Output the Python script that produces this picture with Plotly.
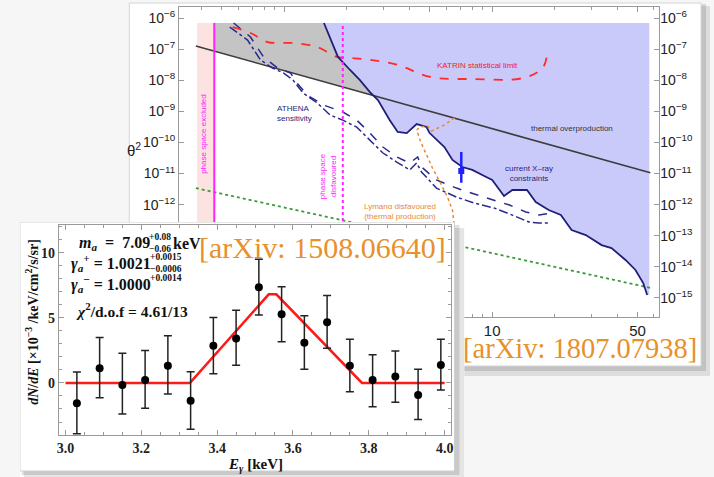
import numpy as np
import plotly.graph_objects as go

W, H = 714, 477

# ---------------- main plot data (sterile neutrino mass [keV], theta^2) ----------------
thermal_mass = [0.375, 57.7]
thermal_theta2 = [1.26e-7, 1.05e-11]

resonant_mass = [0.375, 57.7]
resonant_theta2 = [3.4e-12, 2.1e-15]

katrin_mass = [0.564, 0.687, 0.830, 1.10, 1.44, 1.79, 2.07, 2.58, 3.51, 5.05, 8.11, 14.1, 17.5, 18.5]
katrin_theta2 = [5.1e-7, 3.3e-7, 1.69e-7, 1.57e-7, 1.17e-7, 5.6e-8, 5.2e-8, 4.5e-8, 3.1e-8,
                 1.27e-8, 1.09e-8, 1.18e-8, 2.5e-8, 9.3e-8]

xray_mass = [1.55, 1.68, 1.81, 2.07, 2.31, 2.58, 2.82, 3.21, 3.51, 3.88, 4.33, 4.83, 5.0, 5.89, 6.44,
             7.18, 8.02, 9.36, 10.0, 11.4, 12.5, 14.7, 16.2, 18.7, 21.4, 24.1, 28.2, 33.6, 37.5,
             43.8, 48.9, 53.3, 55.7]
xray_theta2 = [6.9e-7, 1.96e-7, 5.6e-8, 2.13e-8, 1.01e-8, 4.17e-9, 2.31e-9, 5.25e-10, 2.16e-10,
               2.0e-10, 3.9e-10, 3.13e-10, 2.0e-10, 7.1e-11, 2.72e-11, 1.62e-11, 1.30e-11, 7.7e-12,
               6.2e-12, 1.89e-12, 2.95e-12, 2.95e-12, 1.21e-12, 6.7e-13, 4.63e-13, 1.52e-13,
               1.05e-13, 5.0e-14, 4.0e-14, 1.66e-14, 7.9e-15, 3.0e-15, 1.24e-15]
xray_fill_right = 57.0
fill_top = 6.9e-7

athena1_mass = [0.570, 0.687, 0.794, 0.926, 1.07, 1.15, 1.29, 1.54, 1.91, 2.23, 2.58, 2.98, 3.47,
                4.01, 4.38, 4.57, 5.39, 6.73, 8.20, 10.2, 12.1, 14.5, 16.8, 19.4]
athena1_theta2 = [6.9e-7, 2.45e-7, 5.6e-8, 2.47e-8, 1.71e-8, 8.1e-9, 3.3e-9, 1.6e-9, 9.5e-10,
                  5.2e-10, 2.0e-10, 7.1e-11, 3.4e-11, 2.18e-11, 3.4e-11, 1.62e-11, 6.2e-12,
                  3.4e-12, 2.19e-12, 1.41e-12, 9.7e-13, 5.8e-13, 4.6e-13, 5.4e-13]
athena2_mass = [0.546, 0.665, 0.767, 0.877, 0.989, 1.10, 1.23, 1.44, 1.66, 1.91, 2.23, 2.58, 2.98,
                3.47, 4.01, 4.33, 4.57, 5.39, 6.73, 8.20, 10.2, 12.5, 15.0, 16.8, 18.7]
athena2_theta2 = [5.1e-7, 1.96e-7, 4.5e-8, 2.47e-8, 1.71e-8, 1.01e-8, 3.9e-9, 1.85e-9, 7.6e-10,
                  5.2e-10, 3.1e-10, 1.19e-10, 4.56e-11, 2.34e-11, 1.30e-11, 2.18e-11, 1.12e-11,
                  3.4e-12, 1.75e-12, 1.12e-12, 7.8e-13, 4.6e-13, 2.76e-13, 2.56e-13, 2.56e-13]

lyman_mass = [6.58, 5.89, 5.11, 4.89, 4.48, 4.33, 4.53, 4.83, 5.16, 5.64, 6.09, 6.44, 6.58, 6.80]
lyman_theta2 = [6.1e-10, 3.63e-10, 2.33e-10, 3.37e-10, 3.13e-10, 2.5e-10, 1.03e-10, 3.94e-11,
                1.50e-11, 4.95e-12, 1.75e-12, 6.7e-13, 1.77e-13, 5.0e-14]

line_mass = [7.1]
line_theta2 = [1.2e-11]
line_err_plus = [3.7e-11]
line_err_minus = [0.7e-11]

phase_excl_lo, phase_excl_hi = 0.38, 0.46
phase_disf = 1.91
theta2_floor = 1e-16

x_tick_vals = [1, 5, 10, 50]
x_minor_ticks = [0.4, 0.5, 0.6, 0.7, 0.8, 0.9, 2, 3, 4, 6, 7, 8, 9, 20, 30, 40, 60]
y_exponents = list(range(6, 16))

# ---------------- inset data (E [keV], dN/dE [1e-3 /keV/cm2/s/sr]) ----------------
E_gamma = [3.03, 3.09, 3.15, 3.21, 3.27, 3.33, 3.39, 3.45, 3.51, 3.57, 3.63, 3.69, 3.75, 3.81,
           3.87, 3.93, 3.99]
flux = [-1.55, 1.13, -0.15, 0.23, 1.33, -1.36, 2.87, 3.43, 7.36, 5.28, 3.10, 4.67, 1.33, 0.23,
        0.49, -0.92, 1.38]
flux_err_up = [2.40, 2.36, 2.43, 2.26, 2.31, 2.23, 2.16, 2.17, 2.15, 2.13, 2.08, 2.05, 2.03, 1.95,
               1.97, 1.97, 1.98]
flux_err_dn = [2.35, 2.26, 2.23, 2.18, 2.18, 2.20, 2.15, 2.07, 2.13, 2.10, 2.05, 2.00, 2.00, 2.05,
               1.98, 1.88, 1.92]
model_E = [3.0, 3.328, 3.536, 3.556, 3.782, 4.0]
model_flux = [0, 0, 6.82, 6.82, 0, 0]

# ---------------- derived fill polygons ----------------
lm_t = np.log10(thermal_mass)
lt_t = np.log10(thermal_theta2)


def log_thermal(logm):
    return lt_t[0] + (lt_t[1] - lt_t[0]) * (logm - lm_t[0]) / (lm_t[1] - lm_t[0])


lm = np.log10(xray_mass)
lt = np.log10(xray_theta2)
diff = lt - log_thermal(lm)
i_cross = int(np.argmax(diff < 0))
f = diff[i_cross - 1] / (diff[i_cross - 1] - diff[i_cross])
cross_lm = lm[i_cross - 1] + f * (lm[i_cross] - lm[i_cross - 1])
gray_x = [phase_excl_hi, xray_mass[0]] + xray_mass[1:i_cross] + [10 ** cross_lm, phase_excl_hi]
gray_y = [fill_top, xray_theta2[0]] + xray_theta2[1:i_cross] + \
         [10 ** log_thermal(cross_lm), 10 ** log_thermal(np.log10(phase_excl_hi))]

blue_x = xray_mass + [xray_fill_right, xray_fill_right]
blue_y = xray_theta2 + [xray_theta2[-1], fill_top]

navy = "#1f1f7a"
SANS = "Liberation Sans"
SERIF = "Liberation Serif"

fig = go.Figure()

# card subplot placeholder
fig.add_trace(go.Scatter(x=[], y=[], xaxis="x2", yaxis="y2", showlegend=False, hoverinfo="skip"))

# ---- main plot traces ----
fig.add_trace(go.Scatter(x=[phase_excl_lo, phase_excl_hi, phase_excl_hi, phase_excl_lo],
                         y=[theta2_floor, theta2_floor, fill_top, fill_top],
                         fill="toself", fillcolor="rgb(253,226,226)", line=dict(width=0),
                         mode="lines", showlegend=False, hoverinfo="skip"))
fig.add_trace(go.Scatter(x=gray_x, y=gray_y, fill="toself", fillcolor="rgb(196,196,196)",
                         line=dict(width=0), mode="lines", showlegend=False, hoverinfo="skip"))
fig.add_trace(go.Scatter(x=blue_x, y=blue_y, fill="toself", fillcolor="rgb(202,202,250)",
                         line=dict(width=0), mode="lines", showlegend=False, hoverinfo="skip"))
fig.add_trace(go.Scatter(x=thermal_mass, y=thermal_theta2, mode="lines",
                         line=dict(color="#3c3c3c", width=1.6), showlegend=False))
fig.add_trace(go.Scatter(x=resonant_mass, y=resonant_theta2, mode="lines",
                         line=dict(color="#3a9a3a", width=1.8, dash="dot"), showlegend=False))
fig.add_trace(go.Scatter(x=athena1_mass, y=athena1_theta2, mode="lines",
                         line=dict(color="#2a2a8c", width=1.5, dash="dash"), showlegend=False))
fig.add_trace(go.Scatter(x=athena2_mass, y=athena2_theta2, mode="lines",
                         line=dict(color="#2a2a8c", width=1.5, dash="dashdot"), showlegend=False))
fig.add_trace(go.Scatter(x=katrin_mass, y=katrin_theta2, mode="lines", line_shape="spline",
                         line=dict(color="#ff2a2a", width=1.8, dash="dash"), showlegend=False))
fig.add_trace(go.Scatter(x=xray_mass, y=xray_theta2, mode="lines",
                         line=dict(color=navy, width=1.8), showlegend=False))
fig.add_trace(go.Scatter(x=lyman_mass, y=lyman_theta2, mode="lines",
                         line=dict(color="#e8883a", width=1.5, dash="dot"), showlegend=False))
fig.add_trace(go.Scatter(x=[phase_excl_hi, phase_excl_hi], y=[theta2_floor, fill_top], mode="lines",
                         line=dict(color="#ff22ff", width=2), showlegend=False))
fig.add_trace(go.Scatter(x=[phase_disf, phase_disf], y=[theta2_floor, fill_top], mode="lines",
                         line=dict(color="#ff22ff", width=2, dash="dot"), showlegend=False))
fig.add_trace(go.Scatter(x=line_mass, y=line_theta2, mode="markers",
                         marker=dict(symbol="square", size=6, color="#2020ff"),
                         error_y=dict(type="data", array=line_err_plus, arrayminus=line_err_minus,
                                      color="#2020ff", thickness=2.5, width=0),
                         showlegend=False))
fig.add_trace(go.Scatter(x=[0.99], y=[2.0e-13], mode="text", text=["resonant production"],
                         textfont=dict(family=SANS, size=8, color="#3a9a3a"), showlegend=False))
# right-hand y axis labels
fig.add_trace(go.Scatter(x=[], y=[], yaxis="y4", showlegend=False, hoverinfo="skip"))

# ---- inset traces ----
fig.add_trace(go.Scatter(x=model_E, y=model_flux, mode="lines", xaxis="x3", yaxis="y3",
                         line=dict(color="#ff1a1a", width=2.6), showlegend=False))
fig.add_trace(go.Scatter(x=E_gamma, y=flux, mode="markers", xaxis="x3", yaxis="y3",
                         marker=dict(color="black", size=8),
                         error_y=dict(type="data", array=flux_err_up, arrayminus=flux_err_dn,
                                      color="#222", thickness=1.5, width=4),
                         showlegend=False))

tick_text_y = [f"10<sup>−{k}</sup>" for k in y_exponents]
tick_vals_y = [10.0 ** (-k) for k in y_exponents]
frame = "#9a9a9a"

fig.update_layout(
    width=W, height=H, autosize=False,
    margin=dict(l=0, r=0, t=0, b=0),
    paper_bgcolor="#f6f6f6", plot_bgcolor="white",
    xaxis=dict(type="log", domain=[178 / W, 661 / W], range=[-0.507, 1.804], anchor="y",
               tickvals=x_tick_vals, ticktext=[str(v) for v in x_tick_vals],
               ticks="inside", ticklen=5, tickcolor=frame, showline=True, linecolor=frame,
               mirror="ticks", showgrid=False, zeroline=False,
               minor=dict(tickvals=x_minor_ticks, ticks="inside", ticklen=3, tickcolor=frame,
                          showgrid=False),
               tickfont=dict(family=SANS, size=15, color="#222")),
    yaxis=dict(type="log", domain=[1 - 317 / H, 1 - 7 / H], range=[-15.614, -5.646], anchor="x",
               tickvals=tick_vals_y, ticktext=tick_text_y,
               ticks="inside", ticklen=5, tickcolor=frame, showline=True, linecolor=frame,
               mirror="ticks", showgrid=False, zeroline=False,
               tickfont=dict(family=SANS, size=14, color="#222")),
    yaxis4=dict(type="log", overlaying="y", side="right", anchor="x", range=[-15.614, -5.646],
                tickvals=tick_vals_y, ticktext=tick_text_y, ticks="", showline=False,
                showgrid=False, zeroline=False, tickfont=dict(family=SANS, size=14, color="#222")),
    xaxis2=dict(domain=[18 / W, 465 / W], range=[18, 465], anchor="y2", visible=False),
    yaxis2=dict(domain=[0, 1 - 222 / H], range=[477, 222], anchor="x2", visible=False),
    xaxis3=dict(domain=[57 / W, 452 / W], range=[2.982, 4.018], anchor="y3",
                tick0=3.0, dtick=0.2, tickformat=".1f",
                ticks="inside", ticklen=5, tickcolor=frame, showline=True, linecolor=frame,
                mirror="ticks", showgrid=False, zeroline=False,
                minor=dict(dtick=0.05, ticks="inside", ticklen=3, tickcolor=frame, showgrid=False),
                tickfont=dict(family=SERIF, size=14, color="#222", weight="bold")),
    yaxis3=dict(domain=[1 - 435 / H, 1 - 225 / H], range=[-4.0, 12.15], anchor="x3",
                tick0=0, dtick=5,
                ticks="inside", ticklen=5, tickcolor=frame, showline=True, linecolor=frame,
                mirror="ticks", showgrid=False, zeroline=False,
                minor=dict(dtick=1, ticks="inside", ticklen=3, tickcolor=frame, showgrid=False),
                tickfont=dict(family=SERIF, size=14, color="#222", weight="bold")),
)

shapes = [
    # main card shadow + card
    dict(type="rect", xref="paper", yref="paper", layer="below",
         x0=132 / W, x1=712 / W, y0=1 - 376 / H, y1=1 - 6 / H,
         fillcolor="rgba(0,0,0,0.10)", line=dict(width=0)),
    dict(type="rect", xref="paper", yref="paper", layer="below",
         x0=130 / W, x1=708 / W, y0=1 - 371 / H, y1=1 - 4 / H,
         fillcolor="rgba(0,0,0,0.12)", line=dict(width=0)),
    dict(type="rect", xref="paper", yref="paper", layer="below",
         x0=128 / W, x1=703 / W, y0=1 - 366 / H, y1=1 - 3 / H,
         fillcolor="white", line=dict(color="#d4d4d4", width=1)),
    # inset card shadow + card
    dict(type="rect", xref="x2", yref="y2", layer="below", x0=22, x1=465, y0=228, y1=477,
         fillcolor="rgba(0,0,0,0.10)", line=dict(width=0)),
    dict(type="rect", xref="x2", yref="y2", layer="below", x0=20, x1=460, y0=225, y1=475,
         fillcolor="rgba(0,0,0,0.12)", line=dict(width=0)),
    dict(type="rect", xref="x2", yref="y2", layer="below", x0=18, x1=455, y0=222, y1=471,
         fillcolor="white", line=dict(color="#cfcfcf", width=1)),
]
fig.update_layout(shapes=shapes)


def ann(text, px, py, size, color, family=SANS, xanchor="center", angle=0, align="center",
        pad=1, **kw):
    return dict(text=text, x=px / W, y=1 - py / H, xref="paper", yref="paper", showarrow=False,
                xanchor=xanchor, yanchor="middle", textangle=angle, align=align, borderpad=pad,
                font=dict(family=family, size=size, color=color, **kw))


NB = "\u00a0"
ink = "#111"
annotations = [
    ann("KATRIN statistical limit", 478, 65, 8, "#ee2222"),
    ann("ATHENA<br>sensitivity", 275, 114, 8, navy, xanchor="left", align="left"),
    ann("thermal overproduction", 573, 128, 8, "#333333"),
    ann("current X–ray<br>constraints", 530, 173, 8, navy),
    ann("Lymanα disfavoured<br>(thermal production)", 400, 211, 8, "#e8883a"),
    ann("phase space excluded", 202, 134, 8, "#ff22ff", angle=-90),
    ann("phase space<br>disfavoured", 327, 176, 8, "#ff22ff", angle=-90),
    ann("θ<sup>2</sup>", 133, 150, 15, "#222"),
    # inset texts
    ann(f"<i>m</i><sub><i>a</i></sub>{NB}{NB}={NB}{NB}7.09", 150, 243, 16, ink, family=SERIF,
        xanchor="right", weight="bold", pad=0),
    ann("+0.08", 147, 237, 9.5, ink, family=SERIF, xanchor="left", weight="bold", pad=0),
    ann("−0.06", 147, 249, 9.5, ink, family=SERIF, xanchor="left", weight="bold", pad=0),
    ann("keV", 171, 243, 16, ink, family=SERIF, xanchor="left", weight="bold", pad=0),
    ann(f"<i>γ</i><sub><i>a</i></sub><sup>+</sup>{NB}={NB}1.0021", 151, 263, 16, ink,
        family=SERIF, xanchor="right", weight="bold", pad=0),
    ann("+0.0015", 148, 257, 9.5, ink, family=SERIF, xanchor="left", weight="bold", pad=0),
    ann("−0.0006", 148, 269, 9.5, ink, family=SERIF, xanchor="left", weight="bold", pad=0),
    ann(f"<i>γ</i><sub><i>a</i></sub><sup>−</sup>{NB}={NB}1.0000", 151, 284, 16, ink,
        family=SERIF, xanchor="right", weight="bold", pad=0),
    ann("+0.0014", 148, 278, 9.5, ink, family=SERIF, xanchor="left", weight="bold", pad=0),
    ann("<i>χ</i><sup>2</sup>/d.o.f = 4.61/13", 72, 310, 15.5, ink, family=SERIF,
        xanchor="left", weight="bold"),
    ann("<i>E</i><sub><i>γ</i></sub> [keV]", 255, 465, 15, ink, family=SERIF, weight="bold"),
    ann("<i>dN</i>/<i>dE</i> [×10<sup>−3</sup> /keV/cm<sup>2</sup>/s/sr]", 30, 322, 14, ink,
        family=SERIF, angle=-90, weight="bold"),
    # citation labels
    ann("[arXiv: 1508.06640]", 322, 248, 30, "#e8902a", family=SERIF),
    ann("[arXiv: 1807.07938]", 581, 348, 28.5, "#e8902a", family=SERIF),
]
fig.update_layout(annotations=annotations)

fig.write_html("out.html")
